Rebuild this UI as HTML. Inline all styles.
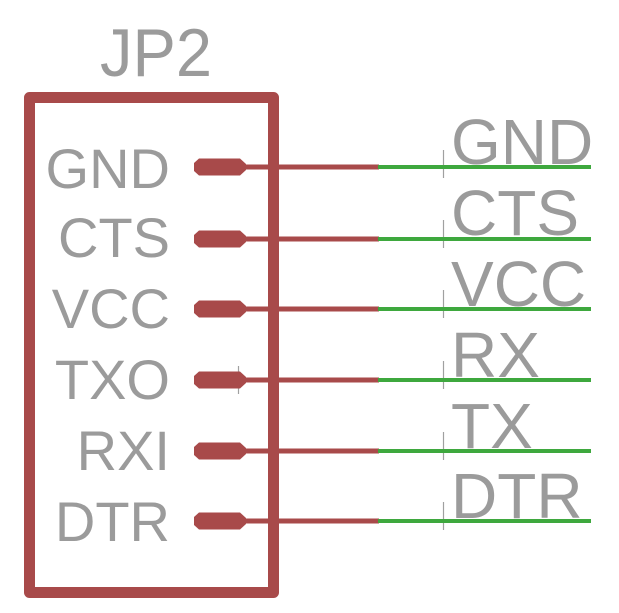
<!DOCTYPE html>
<html><head><meta charset="utf-8"><style>
html,body{margin:0;padding:0;background:#fff;}
svg{display:block;}
text{font-family:"Liberation Sans",sans-serif;fill:#9b9b9b;}
</style></head><body>
<svg width="619" height="613" viewBox="0 0 619 613" xmlns="http://www.w3.org/2000/svg">
<text x="100" y="76" font-size="68" textLength="112" lengthAdjust="spacingAndGlyphs">JP2</text>
<rect x="29.5" y="97.5" width="244" height="495" fill="none" stroke="#a84a4a" stroke-width="11" stroke-linejoin="round"/>
<g font-size="56" text-anchor="end">
<text x="170" y="188">GND</text>
<text x="170" y="257">CTS</text>
<text x="170" y="328">VCC</text>
<text x="170" y="399">TXO</text>
<text x="170" y="470">RXI</text>
<text x="170" y="541">DTR</text>
</g>
<g font-size="64">
<text x="451" y="164">GND</text>
<text x="451" y="235">CTS</text>
<text x="451" y="306">VCC</text>
<text x="451" y="377">RX</text>
<text x="451" y="448">TX</text>
<text x="451" y="518">DTR</text>
</g>
<g stroke="#a0a0a0" stroke-width="1.2">
<line x1="443.5" y1="150" x2="443.5" y2="178"/>
<line x1="443.5" y1="220" x2="443.5" y2="248"/>
<line x1="443.5" y1="290" x2="443.5" y2="318"/>
<line x1="443.5" y1="361" x2="443.5" y2="389"/>
<line x1="443.5" y1="432" x2="443.5" y2="460"/>
<line x1="443.5" y1="502" x2="443.5" y2="530"/>
<line x1="238.5" y1="366" x2="238.5" y2="394"/>
</g>
<g stroke="#a84a4a" stroke-width="5">
<line x1="245" y1="167" x2="379" y2="167"/>
<line x1="245" y1="239" x2="379" y2="239"/>
<line x1="245" y1="309" x2="379" y2="309"/>
<line x1="245" y1="380" x2="379" y2="380"/>
<line x1="245" y1="451" x2="379" y2="451"/>
<line x1="245" y1="521" x2="379" y2="521"/>
</g>
<g stroke="#3ea83e" stroke-width="4">
<line x1="378" y1="167" x2="591" y2="167"/>
<line x1="378" y1="239" x2="591" y2="239"/>
<line x1="378" y1="309" x2="591" y2="309"/>
<line x1="378" y1="380" x2="591" y2="380"/>
<line x1="378" y1="451" x2="591" y2="451"/>
<line x1="378" y1="521" x2="591" y2="521"/>
</g>
<g fill="#a84a4a">
<polygon points="199,158.5 240,158.5 246,164 246,170 240,175.5 199,175.5 194,171 194,163"/>
<polygon points="199,230.5 240,230.5 246,236 246,242 240,247.5 199,247.5 194,243 194,235"/>
<polygon points="199,300.5 240,300.5 246,306 246,312 240,317.5 199,317.5 194,313 194,305"/>
<polygon points="199,371.5 240,371.5 246,377 246,383 240,388.5 199,388.5 194,384 194,376"/>
<polygon points="199,442.5 240,442.5 246,448 246,454 240,459.5 199,459.5 194,455 194,447"/>
<polygon points="199,512.5 240,512.5 246,518 246,524 240,529.5 199,529.5 194,525 194,517"/>
</g>
</svg>
</body></html>
